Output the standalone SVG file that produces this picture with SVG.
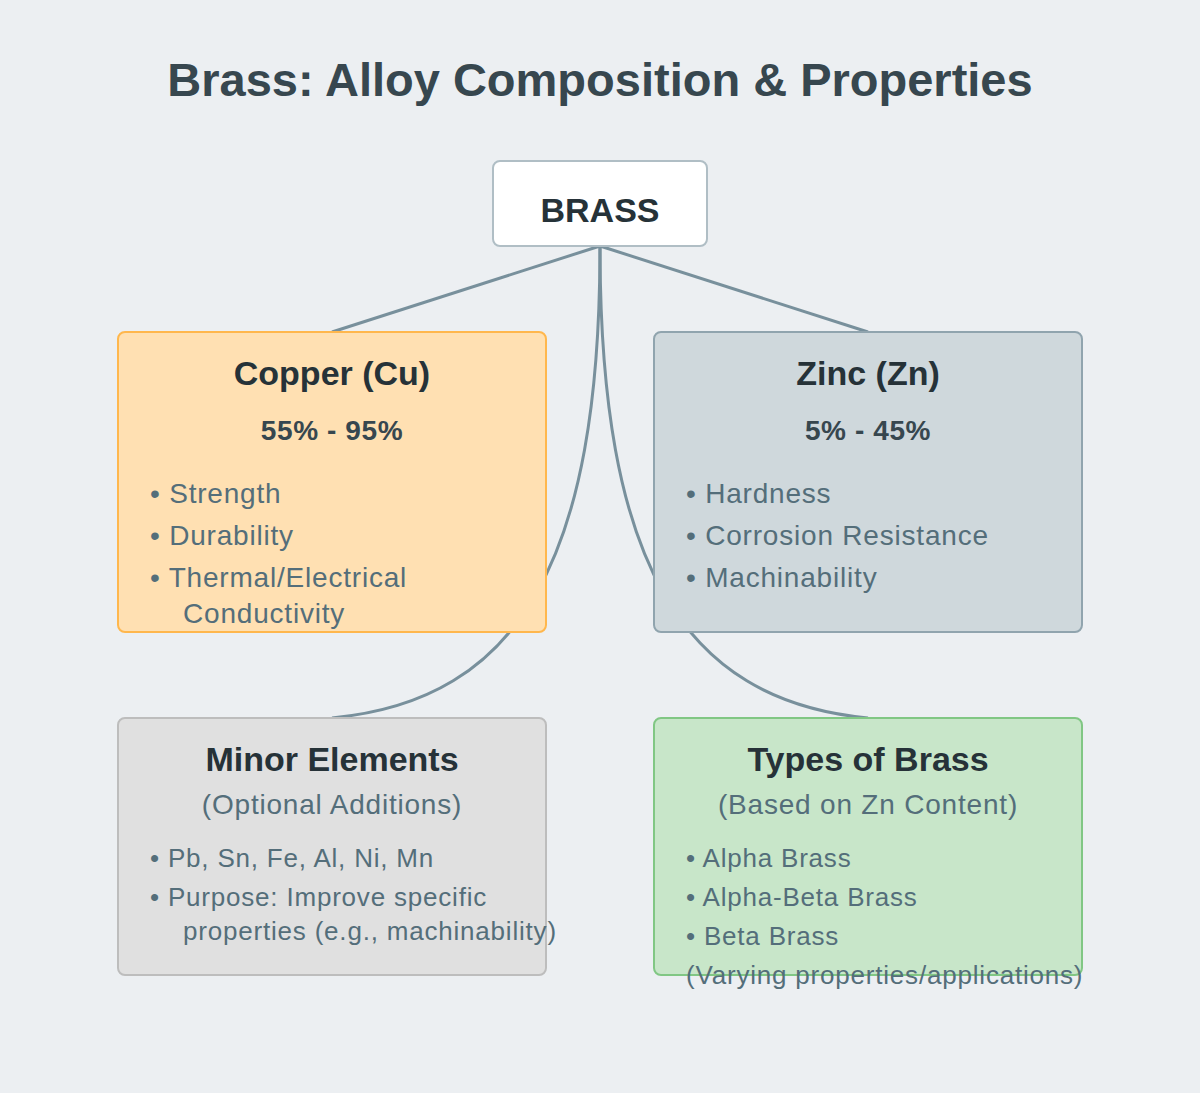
<svg xmlns="http://www.w3.org/2000/svg" width="1200" height="1093" viewBox="0 0 1200 1093">
<style>
text{font-family:"Liberation Sans",Arial,sans-serif}
.t{font-weight:bold;font-size:34px;fill:#263238;text-anchor:middle}
.p{font-weight:bold;font-size:28px;fill:#37474F;text-anchor:middle;letter-spacing:0.6px}
.b{font-size:28px;fill:#546E7A;letter-spacing:0.8px}
.s{font-size:26px;fill:#546E7A;letter-spacing:0.8px}
.c{fill:none;stroke:#78909C;stroke-width:3}
</style>
<rect width="1200" height="1093" fill="#ECEFF2"/>
<text x="600" y="96" text-anchor="middle" font-size="47" font-weight="bold" fill="#37474F">Brass: Alloy Composition &amp; Properties</text>
<g id="connectors">
<path class="c" d="M600,246 L332,332"/>
<path class="c" d="M600,246 L868,332"/>
<path class="c" d="M600,246 C600,560 520,700 332,718"/>
<path class="c" d="M600,246 C600,560 680,700 868,718"/>
</g>
<g id="copper">
<rect x="118" y="332" width="428" height="300" rx="7" fill="#FFE0B2" stroke="#FFB74D" stroke-width="2"/>
<text class="t" x="332" y="385">Copper (Cu)</text>
<text class="p" x="332" y="440">55% - 95%</text>
<text class="b" x="150" y="503">• Strength</text>
<text class="b" x="150" y="545">• Durability</text>
<text class="b" x="150" y="587">• Thermal/Electrical</text>
<text class="b" x="183" y="623">Conductivity</text>
</g>
<g id="zinc">
<rect x="654" y="332" width="428" height="300" rx="7" fill="#CFD8DC" stroke="#90A4AE" stroke-width="2"/>
<text class="t" x="868" y="385">Zinc (Zn)</text>
<text class="p" x="868" y="440">5% - 45%</text>
<text class="b" x="686" y="503">• Hardness</text>
<text class="b" x="686" y="545">• Corrosion Resistance</text>
<text class="b" x="686" y="587">• Machinability</text>
</g>
<g id="minor">
<rect x="118" y="718" width="428" height="257" rx="7" fill="#E0E0E0" stroke="#BDBDBD" stroke-width="2"/>
<text class="t" x="332" y="771">Minor Elements</text>
<text class="b" x="332" y="814" text-anchor="middle">(Optional Additions)</text>
<text class="s" x="150" y="867">• Pb, Sn, Fe, Al, Ni, Mn</text>
<text class="s" x="150" y="906">• Purpose: Improve specific</text>
<text class="s" x="183" y="940">properties (e.g., machinability)</text>
</g>
<g id="types">
<rect x="654" y="718" width="428" height="257" rx="7" fill="#C8E6C9" stroke="#81C784" stroke-width="2"/>
<text class="t" x="868" y="771">Types of Brass</text>
<text class="b" x="868" y="814" text-anchor="middle">(Based on Zn Content)</text>
<text class="s" x="686" y="867">• Alpha Brass</text>
<text class="s" x="686" y="906">• Alpha-Beta Brass</text>
<text class="s" x="686" y="945">• Beta Brass</text>
<text class="s" x="686" y="984">(Varying properties/applications)</text>
</g>
<g id="brass">
<rect x="493" y="161" width="214" height="85" rx="7" fill="#FFFFFF" stroke="#B0BEC5" stroke-width="2"/>
<text class="t" x="600" y="222">BRASS</text>
</g>
</svg>
